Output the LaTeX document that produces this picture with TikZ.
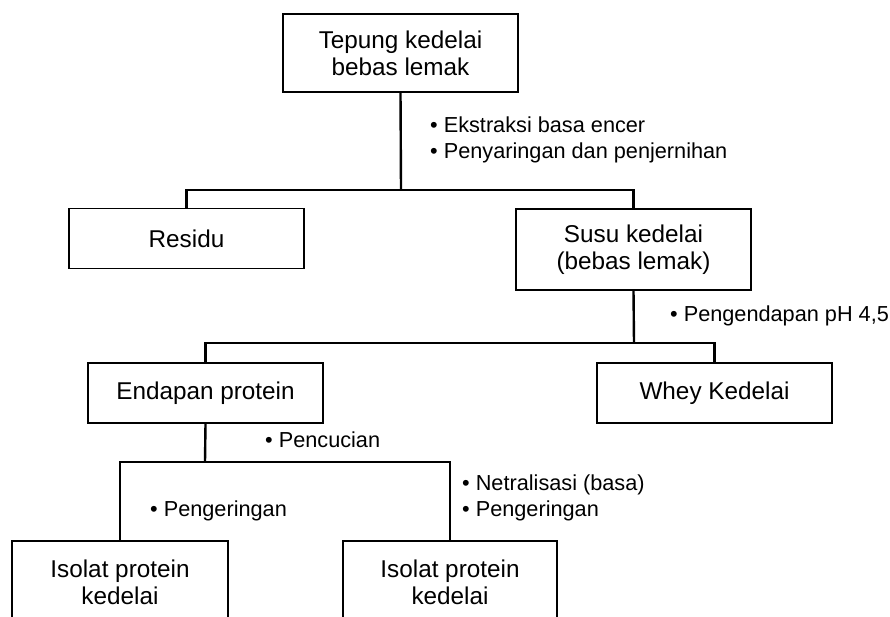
\documentclass[tikz,border=0pt]{standalone}
\usepackage{fontspec}
\setmainfont{Liberation Sans}
\tikzset{
  box/.style={draw, line width=1.8pt, minimum width=235pt, minimum height=60pt,
    align=center, inner sep=0pt, font=\fontsize{24.3}{27}\selectfont},
  note/.style={anchor=west, align=left, inner sep=0pt, font=\fontsize{21.7}{25.5}\selectfont},
  link/.style={line width=2.4pt}
}
\begin{document}
\begin{tikzpicture}[x=1pt,y=-1pt]
            \useasboundingbox (0,0) rectangle (890,617);
            \clip (0,0) rectangle (890,617);

            % boxes
            \node[box, minimum height=78pt] (tepung) at (400.5,53) {Tepung kedelai\\bebas lemak};
            \node[box] (residu) at (186.5,238.5) {Residu};
            \node[box, minimum height=81pt] (susu) at (633.5,249.5) {Susu kedelai\\(bebas lemak)};
            \node[box] (endapan) at (205.5,393) {Endapan protein};
            \node[box] (whey) at (714.5,393) {Whey Kedelai};
            \node[box, minimum width=216pt, minimum height=82pt] (isolatA) at (120,582) {Isolat protein\\kedelai};
            \node[box, minimum width=214pt, minimum height=82pt] (isolatB) at (450,582) {Isolat protein\\kedelai};

            % junctions
            \coordinate (j1) at (401,190);
            \coordinate (j2) at (634,343);
            \coordinate (j3) at (205,462);

            \draw[link] (tepung.south) -- (j1);
            \draw[link] (residu.north) -- (residu.north |- j1) -- (susu.north |- j1) -- (susu.north);
            \draw[link] (susu.south) -- (j2);
            \draw[link] (endapan.north) -- (endapan.north |- j2) -- (whey.north |- j2) -- (whey.north);
            \draw[link] (endapan.south) -- (j3);
            \draw[link] (isolatA.north) -- (isolatA.north |- j3) -- (isolatB.north |- j3) -- (isolatB.north);

            % process notes
            \node[note] (n1) at (430,140) {• Ekstraksi basa encer\\• Penyaringan dan penjernihan};
            \node[note] (n2) at (670,316) {• Pengendapan pH 4,5};
            \node[note] (n3) at (265,440) {• Pencucian};
            \node[note] (n4) at (150,511) {• Pengeringan};
            \node[note] (n5) at (462,498) {• Netralisasi (basa)\\• Pengeringan};
        \end{tikzpicture}
\end{document}
